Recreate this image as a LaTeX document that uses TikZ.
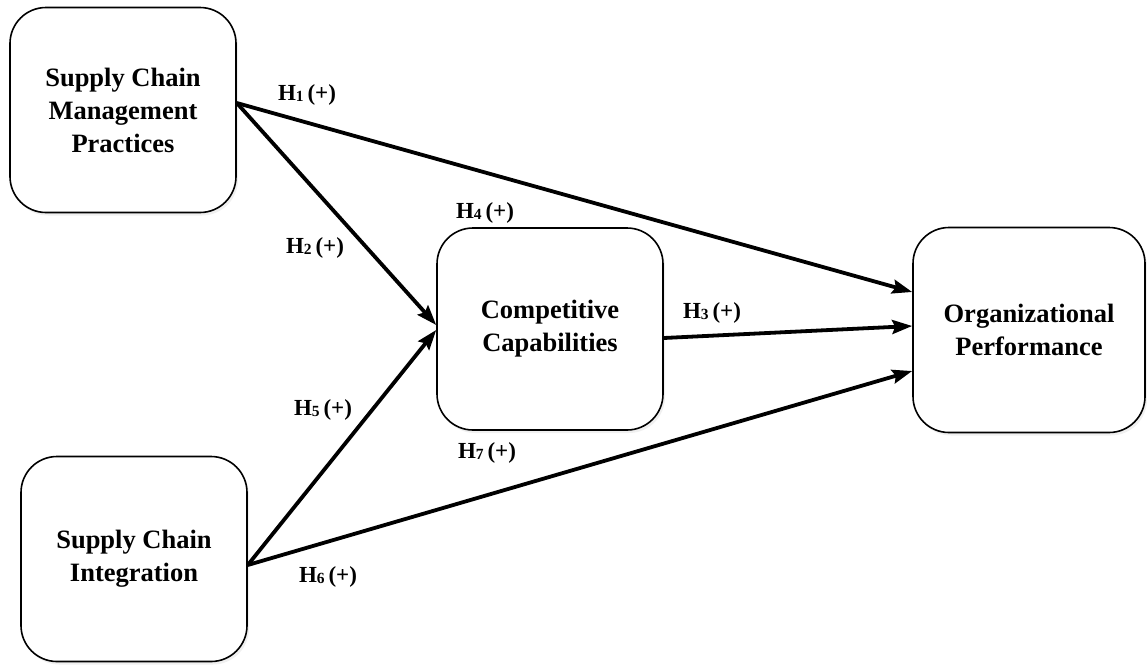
\documentclass[tikz,border=0pt]{standalone}
\usepackage{fontspec}
\setmainfont{Liberation Serif}
\usetikzlibrary{arrows.meta,shadows}
\tikzset{
  box/.style={draw=black, line width=1.6pt, rounded corners=36pt, fill=white,
    minimum width=226pt, minimum height=205pt, inner sep=0pt, align=center,
    font=\bfseries\fontsize{26.5}{33}\selectfont,
    drop shadow={opacity=0.12, shadow xshift=2pt, shadow yshift=-3pt}},
  conn/.style={line width=3.8pt, -{Stealth[length=20pt,width=14pt,inset=3pt]}},
  hlab/.style={font=\bfseries\fontsize{23}{25}\selectfont, inner sep=0pt}
}
\newcommand{\hyp}[1]{H{\fontsize{15.5}{15.5}\selectfont\raisebox{-0.5pt}{#1}}\,(+)}
\begin{document}
\begin{tikzpicture}[x=1pt,y=-1pt]
\useasboundingbox (0,0) rectangle (1147,664);
\node[box] (scmp) at (123,110) {Supply Chain\\Management\\Practices};
\node[box, minimum height=202pt] (cc) at (550,329) {Competitive\\Capabilities};
\node[box, minimum width=232pt] (op) at (1029,330) {Organizational\\Performance};
\node[box] (sci) at (134,559) {Supply Chain\\Integration};

\draw[conn] ([yshift=7pt]scmp.east) -- ([yshift=38pt]op.west);
\draw[conn] ([yshift=7pt]scmp.east) -- ([yshift=4pt]cc.west);
\draw[conn] ([yshift=-9pt]cc.east) -- ([yshift=4pt]op.west);
\draw[conn] ([yshift=-6pt]sci.east) -- ([yshift=-1pt]cc.west);
\draw[conn] ([yshift=-6pt]sci.east) -- ([yshift=-41pt]op.west);

\node[hlab] (h1) at (307,95) {\hyp{1}};
\node[hlab] (h2) at (315,248) {\hyp{2}};
\node[hlab] (h4) at (485,213) {\hyp{4}};
\node[hlab] (h3) at (712,313) {\hyp{3}};
\node[hlab] (h5) at (323,410) {\hyp{5}};
\node[hlab] (h7) at (487,453) {\hyp{7}};
\node[hlab] (h6) at (328,577) {\hyp{6}};
\end{tikzpicture}
\end{document}
